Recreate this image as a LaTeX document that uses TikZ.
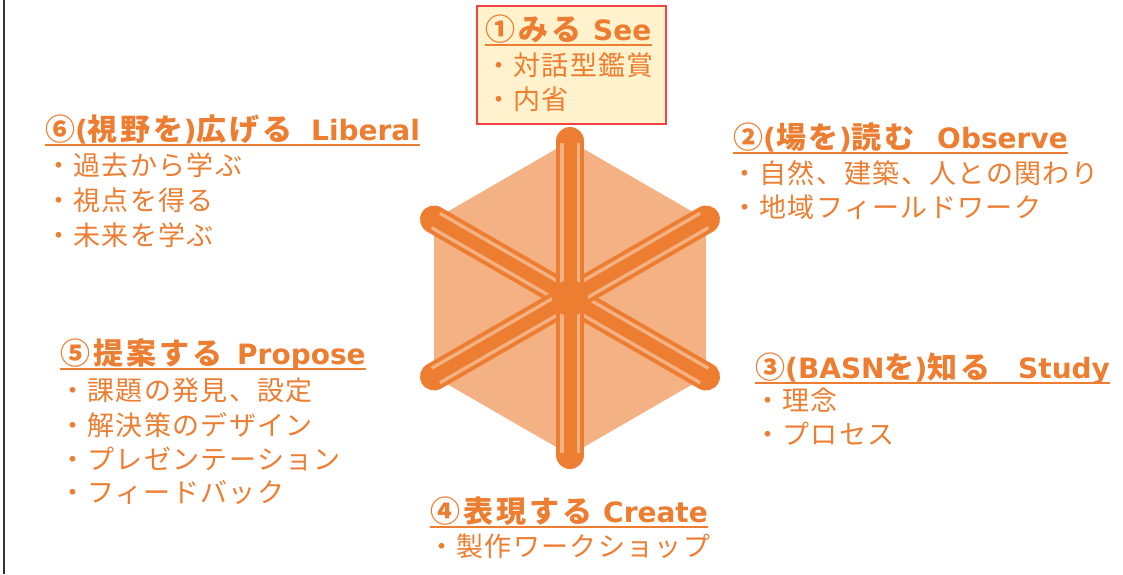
\documentclass[tikz,border=0pt]{standalone}
\usepackage{fontspec}
\setmainfont{DejaVu Sans}
\newfontfamily\jpBody[LetterSpace=5]{Noto Sans CJK JP}
\newfontfamily\jpHead[LetterSpace=10]{Noto Sans CJK JP}
\usetikzlibrary{calc}
\definecolor{accentOrange}{HTML}{ED7D31}
\definecolor{hexOrange}{HTML}{F4B183}
\definecolor{boxYellow}{HTML}{FFF2CC}
\definecolor{boxRed}{HTML}{F04444}
\tikzstyle{headText} = [anchor=base west, inner sep=0, text=accentOrange, font=\fontsize{28}{32}\selectfont\bfseries]
\tikzstyle{itemText} = [anchor=base west, inner sep=0, text=accentOrange, font=\fontsize{27}{30}\selectfont\jpBody]
\tikzstyle{headLine} = [draw=accentOrange, line width=2pt]
\tikzstyle{spokeOuter} = [draw=accentOrange, line width=28pt, line cap=round]
\tikzstyle{spokeStripe} = [draw=hexOrange, line width=20pt]
\tikzstyle{spokeCore} = [draw=accentOrange, line width=13pt]
\newcommand{\ja}[1]{{\jpHead\fontsize{30}{32}\selectfont #1}}
\newcommand{\headLabel}[3]{\makebox[#1][l]{#2}#3}
\newcommand{\underlineHead}[1]{\draw [headLine] ([yshift=-5pt]#1.base west) -- ([yshift=-5pt]#1.base east);}
\newcommand{\spoke}[1]{
  \draw [spokeOuter] ($(hub)+(#1:157)$) -- ($(hub)+(#1+180:157)$);
  \draw [spokeStripe] ($(hub)+(#1:155)$) -- ($(hub)+(#1+180:155)$);
  \draw [spokeCore] ($(hub)+(#1:157)$) -- ($(hub)+(#1+180:157)$);
}

\begin{document}
\begin{tikzpicture}[x=1pt, y=-1pt]
  \useasboundingbox (0,0) rectangle (1123,574);
  \draw [black!80, line width=2pt] (3.5,0) -- (3.5,574);

  \coordinate (hub) at (570,298);
  \fill [hexOrange] ($(hub)+(90:157)$) \foreach \k in {1,...,5} { -- ($(hub)+(90+60*\k:157)$) } -- cycle;
  \foreach \angle in {30,150,90} {
    \spoke{\angle}
  }
  \fill [accentOrange] (hub) circle (18);

  \filldraw [fill=boxYellow, draw=boxRed, line width=1.2pt] (477,6) rectangle (666,124);
  \node [headText] (seeHead) at (485,40) {\headLabel{108pt}{\ja{①みる}}{See}};
  \underlineHead{seeHead}
  \node [itemText] (seeItemA) at (485,75) {・対話型鑑賞};
  \node [itemText] (seeItemB) at (485,109) {・内省};

  \node [headText] (observeHead) at (733,148) {\headLabel{204pt}{\ja{②}(\ja{場を})\ja{読む}}{Observe}};
  \underlineHead{observeHead}
  \node [itemText] (observeItemA) at (731,183) {・自然、建築、人との関わり};
  \node [itemText] (observeItemB) at (731,217) {・地域フィールドワーク};

  \node [headText] (studyHead) at (755,378) {\headLabel{263pt}{\ja{③}(BASN\ja{を})\ja{知る}}{Study}};
  \underlineHead{studyHead}
  \node [itemText] (studyItemA) at (754,410) {・理念};
  \node [itemText] (studyItemB) at (754,444) {・プロセス};

  \node [headText] (createHead) at (430,522) {\headLabel{173pt}{\ja{④表現する}}{Create}};
  \underlineHead{createHead}
  \node [itemText] (createItemA) at (428,556) {・製作ワークショップ};

  \node [headText] (proposeHead) at (60,364) {\headLabel{177pt}{\ja{⑤提案する}}{Propose}};
  \underlineHead{proposeHead}
  \node [itemText] (proposeItemA) at (59,400) {・課題の発見、設定};
  \node [itemText] (proposeItemB) at (59,435) {・解決策のデザイン};
  \node [itemText] (proposeItemC) at (59,469) {・プレゼンテーション};
  \node [itemText] (proposeItemD) at (59,502) {・フィードバック};

  \node [headText] (liberalHead) at (45,140) {\headLabel{266pt}{\ja{⑥}(\ja{視野を})\ja{広げる}}{Liberal}};
  \underlineHead{liberalHead}
  \node [itemText] (liberalItemA) at (45,175) {・過去から学ぶ};
  \node [itemText] (liberalItemB) at (45,210) {・視点を得る};
  \node [itemText] (liberalItemC) at (45,245) {・未来を学ぶ};
\end{tikzpicture}
\end{document}
